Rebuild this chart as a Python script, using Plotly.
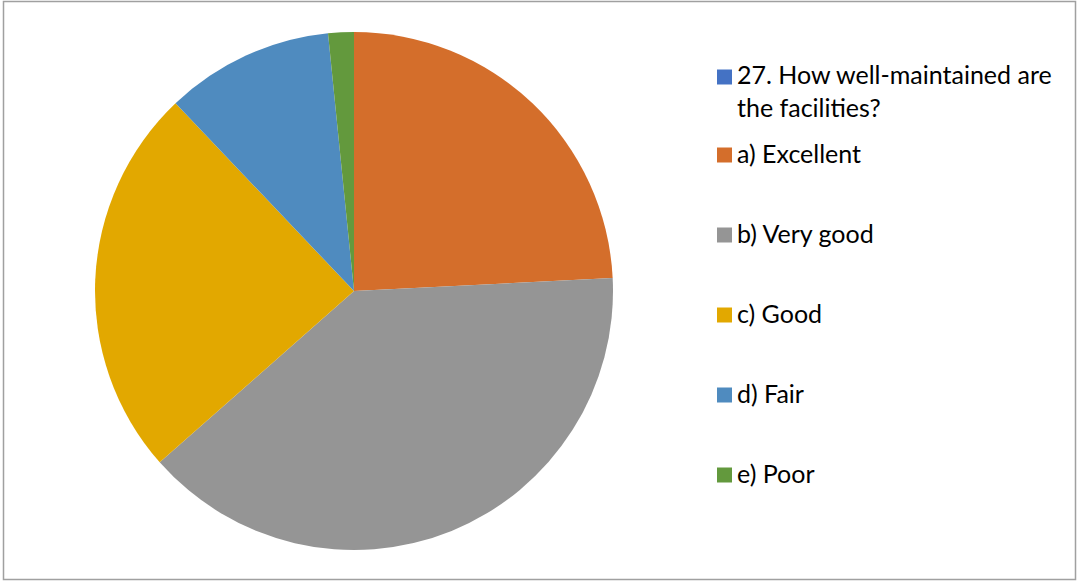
import plotly.graph_objects as go

# Survey question 27 results (share of responses, %)
series_name = "27. How well-maintained are the facilities?"
categories = ["a) Excellent", "b) Very good", "c) Good", "d) Fair", "e) Poor"]
shares = [24.2, 39.3, 24.4, 10.5, 1.6]

series_color = "#4472C4"
slice_colors = ["#D46E2B", "#959595", "#E2A800", "#4F8BBF", "#63993D"]

W, H = 1077, 581
FONT = "Lato"
FONT_SIZE = 25

fig = go.Figure(
    go.Pie(
        labels=categories,
        values=shares,
        marker=dict(colors=slice_colors, line=dict(width=0)),
        sort=False,
        direction="clockwise",
        rotation=0,
        textinfo="none",
        hoverinfo="label+percent",
        showlegend=False,
        domain=dict(x=[95 / W, 613 / W], y=[31 / H, 549 / H]),
    )
)

# Legend drawn as colored squares plus labels
legend_items = [(series_name.replace("are the", "are<br>the"), series_color)] + list(
    zip(categories, slice_colors)
)
square_y = [77, 155, 235, 315, 395, 475]
label_y = [91, 153, 233, 313, 393, 473]
sq = 15
shapes = []
annotations = []
for (label, color), yc, ly in zip(legend_items, square_y, label_y):
    shapes.append(
        dict(
            type="rect", xref="paper", yref="paper",
            x0=717 / W, x1=(717 + sq) / W,
            y0=1 - (yc + sq / 2) / H, y1=1 - (yc - sq / 2) / H,
            fillcolor=color, line=dict(width=0),
        )
    )
    annotations.append(
        dict(
            xref="paper", yref="paper",
            x=735 / W, y=1 - ly / H,
            xanchor="left", yanchor="middle",
            text=label, showarrow=False, align="left",
            font=dict(family=FONT, size=FONT_SIZE, color="#000000"),
        )
    )

# Chart frame
shapes.append(
    dict(
        type="rect", xref="paper", yref="paper",
        x0=3.5 / W, x1=1075.5 / W, y0=1 - 579.5 / H, y1=1 - 1.5 / H,
        line=dict(color="#A0A0A0", width=1.5), fillcolor="rgba(0,0,0,0)",
    )
)

fig.update_layout(
    width=W, height=H,
    margin=dict(l=0, r=0, t=0, b=0),
    paper_bgcolor="white", plot_bgcolor="white",
    shapes=shapes, annotations=annotations,
    font=dict(family=FONT),
)

fig.write_html("out.html")
